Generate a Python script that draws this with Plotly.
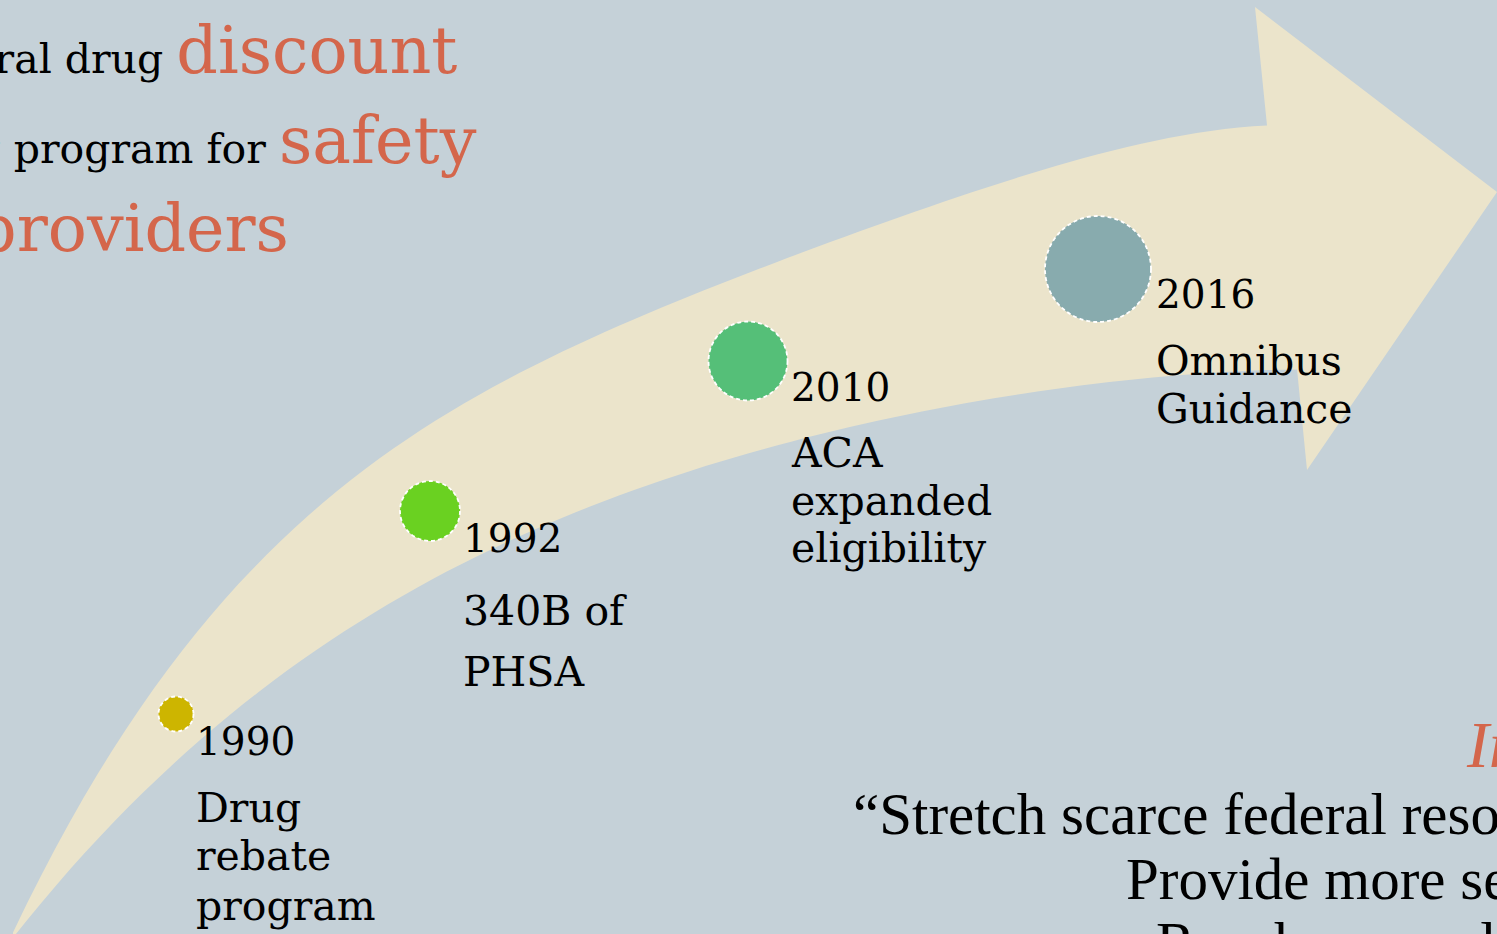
import numpy as np
import plotly.graph_objects as go

W, H = 1497, 934

# ---- timeline data ----
years = ["1990", "1992", "2010", "2016"]
events = [["Drug", "rebate", "program"], ["340B of", "PHSA"], ["ACA", "expanded", "eligibility"], ["Omnibus", "Guidance"]]
dot_colors = ["#CDB500", "#6AD121", "#55BF78", "#88ABAE"]

# layout positions (pixel space)
dot_cx = [176, 430, 748, 1098]
dot_cy = [714, 511, 361, 269]
dot_r = [17.5, 30, 39.5, 53]
label_x = [195, 462, 790, 1155]
year_base = [754, 551, 400, 307]
event_base = [[822, 870, 920], [625, 686], [467, 515, 562], [375, 423]]

# arrow outline (pixel space): upper edge, head, lower edge
upper_x = [13, 63, 117, 155, 217, 283, 350, 450, 550, 650, 750, 850, 950, 1050, 1150, 1267]
upper_y = [934, 840, 740, 677, 607, 540, 483, 420, 360, 310, 267, 231, 200, 170, 147, 122]
head_x = [1255, 1497, 1307, 1297]
head_y = [7, 192, 470, 369]
lower_x = [1297, 1160, 1030, 850, 700, 550, 450, 350, 283, 195, 110, 13]
lower_y = [369, 379, 390, 427, 468, 526, 570, 627, 670, 740, 836, 934]

BG = "#C5D1D8"
BEIGE = "#EBE4CB"
RED = "#D4664B"
SERIF = "DejaVu Serif"
QSERIF = "Liberation Serif"


def edge(xs, ys, x_from, x_to, n=90):
    """smooth outline through the traced points (least-squares curve)"""
    coef = np.polyfit(xs, ys, 4)
    xx = np.linspace(x_from, x_to, n)
    return xx, np.polyval(coef, xx)


ux, uy = edge(upper_x, upper_y, upper_x[0], upper_x[-1])
lx, ly = edge(lower_x, lower_y, lower_x[0], lower_x[-1])
path_x = list(ux) + head_x + list(lx)
path_y = list(uy) + head_y + list(ly)
path = "M" + " L".join("%.1f,%.1f" % (a, b) for a, b in zip(path_x, path_y)) + " Z"

fig = go.Figure()
fig.add_trace(go.Scatter(x=[0, W], y=[0, H], mode="markers", marker=dict(opacity=0),
                         hoverinfo="skip", showlegend=False))

shapes = [dict(type="path", xref="x", yref="y", path=path, fillcolor=BEIGE,
               line=dict(width=0), layer="below")]
for cx, cy, r, c in zip(dot_cx, dot_cy, dot_r, dot_colors):
    shapes.append(dict(type="circle", xref="x", yref="y", x0=cx - r, x1=cx + r, y0=cy - r, y1=cy + r,
                       fillcolor=c, line=dict(color="white", width=1.8, dash="4px,3px"), layer="above"))

annotations = []


def txt(x, base, text, size, family=SERIF, color="black", xanchor="left", box=None):
    box = box or size
    annotations.append(dict(x=x / W, y=1 - (base - 0.33 * box) / H, xref="paper", yref="paper",
                            text=text, showarrow=False, xanchor=xanchor, yanchor="middle",
                            font=dict(family=family, size=size, color=color), borderpad=0))


for i in range(len(years)):
    txt(label_x[i], year_base[i], years[i], 39)
    for line, b in zip(events[i], event_base[i]):
        txt(label_x[i], b, line, 41)

# top-left heading
txt(458, 72, "A federal drug <span style='color:%s;font-size:65px'>discount</span>" % RED, 41,
    xanchor="right", box=65)
txt(478, 162, "pricing program for <span style='color:%s;font-size:65px'>safety</span>" % RED, 41,
    xanchor="right", box=65)
txt(290, 250, "net providers", 65, color=RED, xanchor="right")

# bottom-right quote
txt(1465, 766, "<i>Intent</i>", 66, family=QSERIF, color=RED)
txt(852, 833, "\u201cStretch scarce federal resources as far as possible,", 59, family=QSERIF)
txt(1125, 898, "Provide more services,", 59, family=QSERIF)
txt(1155, 962, "Reach more eligible patients\u201d", 59, family=QSERIF)

fig.update_layout(
    width=W, height=H, margin=dict(l=0, r=0, t=0, b=0),
    paper_bgcolor=BG, plot_bgcolor=BG,
    xaxis=dict(range=[0, W], visible=False, fixedrange=True),
    yaxis=dict(range=[H, 0], visible=False, fixedrange=True),
    shapes=shapes, annotations=annotations, showlegend=False,
)

fig.write_html("out.html", config={"displayModeBar": False},
               post_script="document.body.style.margin='0';document.body.style.overflow='hidden';")
